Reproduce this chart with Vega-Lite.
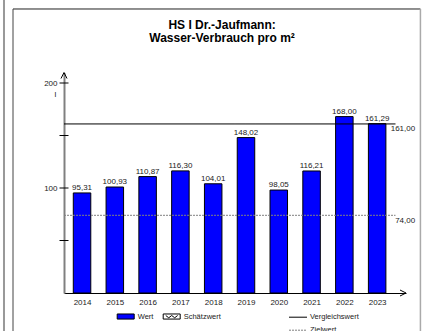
{
  "$schema": "https://vega.github.io/schema/vega-lite/v6.json",
  "width": 342,
  "height": 220.5,
  "autosize": {"type": "none"},
  "padding": {"left": 64, "top": 72.5, "right": 16, "bottom": 37.5},
  "background": "white",
  "config": {
    "font": "Liberation Sans",
    "view": {"stroke": null},
    "locale": {"number": {"decimal": ",", "thousands": ".", "grouping": [3], "currency": ["", " €"]}},
    "text": {"font": "Liberation Sans", "fontSize": 8, "color": "#222222"},
    "legend": {"labelFont": "Liberation Sans", "labelFontSize": 7.5, "labelColor": "#222222", "padding": 0},
    "axisX": {"values": [2014, 2015, 2016, 2017, 2018, 2019, 2020, 2021, 2022, 2023], "format": "d", "tickCount": 10,
              "grid": false, "ticks": false, "tickSize": 0, "labelPadding": 5,
              "labelFontSize": 8, "labelColor": "#222222", "labelFont": "Liberation Sans",
              "labelOverlap": false, "domainColor": "black", "domainWidth": 1, "labelFlush": false},
    "axisY": {"values": [100, 200], "grid": false, "ticks": false, "tickSize": 0, "labelPadding": 7, "labelOverlap": false,
              "labelFontSize": 8, "labelColor": "#222222", "labelFont": "Liberation Sans",
              "domainColor": "#808080", "domainWidth": 2}
  },
  "datasets": {
    "verbrauch": [
      {"year": 2014, "value": 95.31},
      {"year": 2015, "value": 100.93},
      {"year": 2016, "value": 110.87},
      {"year": 2017, "value": 116.30},
      {"year": 2018, "value": 104.01},
      {"year": 2019, "value": 148.02},
      {"year": 2020, "value": 98.05},
      {"year": 2021, "value": 116.21},
      {"year": 2022, "value": 168.00},
      {"year": 2023, "value": 161.29}
    ],
    "refs": [
      {"name": "Vergleichswert", "value": 161},
      {"name": "Zielwert", "value": 74}
    ],
    "yticks": [
      {"v": 50}, {"v": 100}, {"v": 150}, {"v": 200}
    ],
    "one": [{}]
  },
  "layer": [
    {
      "data": {"name": "verbrauch"},
      "mark": {"type": "bar", "size": 17.5, "stroke": "black", "strokeWidth": 1},
      "encoding": {
        "x": {"field": "year", "type": "quantitative",
              "scale": {"domain": [2013.45, 2023.88], "nice": false, "zero": false, "padding": 0},
              "axis": {"values": [2014, 2015, 2016, 2017, 2018, 2019, 2020, 2021, 2022, 2023], "format": "d", "title": null}},
        "y": {"field": "value", "type": "quantitative",
              "scale": {"domain": [0, 210], "nice": false, "zero": true, "padding": 0},
              "axis": {"values": [100, 200], "title": "l", "titleAngle": 0, "titleX": -9, "titleY": 23.5,
                       "titleAlign": "center", "titleBaseline": "alphabetic", "titleFontSize": 8,
                       "titleFontWeight": "normal", "titleColor": "#222222", "titleFont": "Liberation Sans"}},
        "color": {"datum": "Wert", "type": "nominal",
                  "scale": {"domain": ["Wert", "Schätzwert"], "range": ["#0000FF", "#FFFFFF"]},
                  "legend": {"orient": "none", "legendX": 52.7, "legendY": 234.8, "direction": "horizontal",
                             "title": null, "symbolType": "M-1,-0.3H1V0.3H-1Z", "symbolSize": 289,
                             "symbolStrokeColor": "black", "symbolStrokeWidth": 1, "symbolOpacity": 1,
                             "labelOffset": 3, "columnPadding": 7,
                             "encode": {"symbols": {"update": {"shape": {"signal": "datum.value === 'Schätzwert' ? 'M-1,-0.3H1V0.3H-1Z M-0.7,-0.12L-0.35,0.15L0,-0.12L0.35,0.15L0.7,-0.12' : 'M-1,-0.3H1V0.3H-1Z'"}}}}}}
      }
    },
    {
      "data": {"name": "verbrauch"},
      "mark": {"type": "text", "baseline": "alphabetic", "dy": -3, "fontSize": 8},
      "encoding": {
        "x": {"field": "year", "type": "quantitative", "axis": {"values": [2014, 2015, 2016, 2017, 2018, 2019, 2020, 2021, 2022, 2023], "format": "d", "title": null}},
        "y": {"field": "value", "type": "quantitative", "axis": {"values": [100, 200], "title": "l"}},
        "text": {"field": "value", "type": "quantitative", "format": ".2f"}
      }
    },
    {
      "data": {"name": "refs"},
      "mark": {"type": "rule", "strokeWidth": 1},
      "encoding": {
        "x": {"datum": 2013.45, "type": "quantitative", "axis": {"values": [2014, 2015, 2016, 2017, 2018, 2019, 2020, 2021, 2022, 2023], "format": "d", "title": null}},
        "x2": {"datum": 2023.56},
        "y": {"field": "value", "type": "quantitative", "axis": {"values": [100, 200], "title": "l"}},
        "stroke": {"field": "name", "type": "nominal",
                   "scale": {"domain": ["Vergleichswert", "Zielwert"], "range": ["black", "#808080"]},
                   "legend": {"orient": "none", "legendX": 224.5, "legendY": 235.2, "direction": "vertical",
                              "title": null, "symbolType": "stroke", "symbolSize": 324, "symbolStrokeWidth": 1,
                              "labelOffset": 2.5, "rowPadding": -5.4}},
        "strokeDash": {"field": "name", "type": "nominal",
                       "scale": {"domain": ["Vergleichswert", "Zielwert"], "range": [[1, 0], [2, 1]]}}
      }
    },
    {
      "data": {"name": "refs"},
      "mark": {"type": "text", "align": "right", "baseline": "top", "dy": 1.5, "fontSize": 8},
      "encoding": {
        "x": {"datum": 2024.16, "type": "quantitative", "axis": {"values": [2014, 2015, 2016, 2017, 2018, 2019, 2020, 2021, 2022, 2023], "format": "d", "title": null}},
        "y": {"field": "value", "type": "quantitative", "axis": {"values": [100, 200], "title": "l"}},
        "text": {"field": "value", "type": "quantitative", "format": ".2f"}
      }
    },
    {
      "data": {"name": "yticks"},
      "mark": {"type": "tick", "orient": "horizontal", "size": 9, "thickness": 1, "color": "black", "opacity": 1},
      "encoding": {
        "x": {"datum": 2013.45, "type": "quantitative", "axis": {"values": [2014, 2015, 2016, 2017, 2018, 2019, 2020, 2021, 2022, 2023], "format": "d", "title": null}},
        "y": {"field": "v", "type": "quantitative", "axis": {"values": [100, 200], "title": "l"}}
      }
    },
    {
      "data": {"name": "one"},
      "mark": {"type": "point", "shape": "M-1,-0.5L0,0L-1,0.5", "size": 144, "filled": false, "stroke": "black", "strokeWidth": 1, "opacity": 1},
      "encoding": {
        "x": {"datum": 2023.88, "type": "quantitative", "axis": {"values": [2014, 2015, 2016, 2017, 2018, 2019, 2020, 2021, 2022, 2023], "format": "d", "title": null}},
        "y": {"datum": 0, "type": "quantitative", "axis": {"values": [100, 200], "title": "l"}}
      }
    },
    {
      "data": {"name": "one"},
      "mark": {"type": "point", "shape": "M-0.5,1L0,0L0.5,1", "size": 144, "filled": false, "stroke": "black", "strokeWidth": 1, "opacity": 1},
      "encoding": {
        "x": {"datum": 2013.45, "type": "quantitative", "axis": {"values": [2014, 2015, 2016, 2017, 2018, 2019, 2020, 2021, 2022, 2023], "format": "d", "title": null}},
        "y": {"datum": 210, "type": "quantitative", "axis": {"values": [100, 200], "title": "l"}}
      }
    },
    {
      "data": {"name": "one"},
      "mark": {"type": "text", "text": "HS I Dr.-Jaufmann:", "fontSize": 12, "fontWeight": "bold", "align": "center", "baseline": "alphabetic", "color": "black"},
      "encoding": {
        "x": {"datum": 2018.27, "type": "quantitative", "axis": {"values": [2014, 2015, 2016, 2017, 2018, 2019, 2020, 2021, 2022, 2023], "format": "d", "title": null}},
        "y": {"datum": 251.8, "type": "quantitative", "axis": {"values": [100, 200], "title": "l"}}
      }
    },
    {
      "data": {"name": "one"},
      "mark": {"type": "text", "text": "Wasser-Verbrauch pro m²", "fontSize": 12, "fontWeight": "bold", "align": "center", "baseline": "alphabetic", "color": "black"},
      "encoding": {
        "x": {"datum": 2018.27, "type": "quantitative", "axis": {"values": [2014, 2015, 2016, 2017, 2018, 2019, 2020, 2021, 2022, 2023], "format": "d", "title": null}},
        "y": {"datum": 239.0, "type": "quantitative", "axis": {"values": [100, 200], "title": "l"}}
      }
    },
    {
      "data": {"name": "one"},
      "mark": {"type": "rule", "color": "#222222", "strokeWidth": 1},
      "encoding": {
        "x": {"datum": 2011.895, "type": "quantitative", "axis": {"values": [2014, 2015, 2016, 2017, 2018, 2019, 2020, 2021, 2022, 2023], "format": "d", "title": null}},
        "x2": {"datum": 2024.32},
        "y": {"datum": 270.48, "type": "quantitative", "axis": {"values": [100, 200], "title": "l"}}
      }
    },
    {
      "data": {"name": "one"},
      "mark": {"type": "rule", "color": "#444444", "strokeWidth": 1},
      "encoding": {
        "x": {"datum": 2011.895, "type": "quantitative", "axis": {"values": [2014, 2015, 2016, 2017, 2018, 2019, 2020, 2021, 2022, 2023], "format": "d", "title": null}},
        "y": {"datum": 270.48, "type": "quantitative", "axis": {"values": [100, 200], "title": "l"}},
        "y2": {"datum": -50}
      }
    },
    {
      "data": {"name": "one"},
      "mark": {"type": "rule", "color": "#999999", "strokeWidth": 2},
      "encoding": {
        "x": {"datum": 2011.62, "type": "quantitative", "axis": {"values": [2014, 2015, 2016, 2017, 2018, 2019, 2020, 2021, 2022, 2023], "format": "d", "title": null}},
        "y": {"datum": 280, "type": "quantitative", "axis": {"values": [100, 200], "title": "l"}},
        "y2": {"datum": -50}
      }
    },
    {
      "data": {"name": "one"},
      "mark": {"type": "rule", "color": "#aaaaaa", "strokeWidth": 1.5},
      "encoding": {
        "x": {"datum": 2024.32, "type": "quantitative", "axis": {"values": [2014, 2015, 2016, 2017, 2018, 2019, 2020, 2021, 2022, 2023], "format": "d", "title": null}},
        "y": {"datum": 270.48, "type": "quantitative", "axis": {"values": [100, 200], "title": "l"}},
        "y2": {"datum": -50}
      }
    }
  ]
}
